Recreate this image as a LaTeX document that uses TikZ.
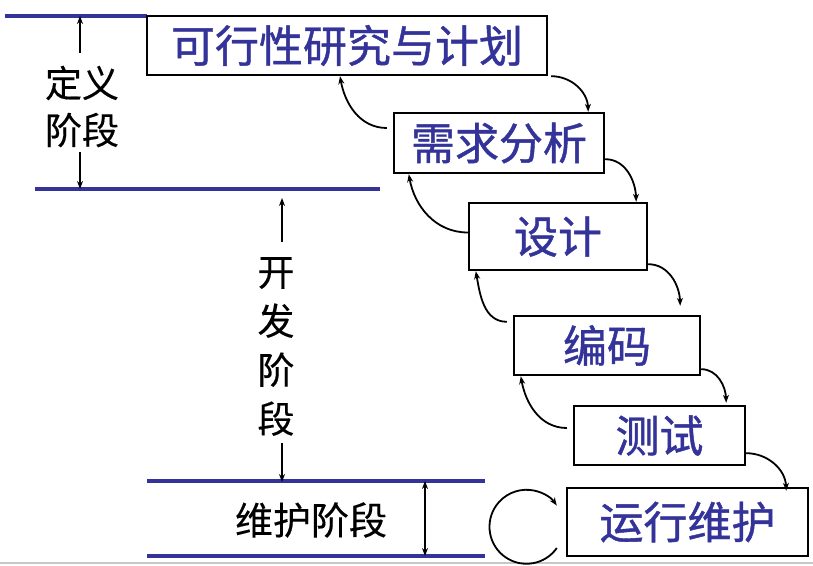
\documentclass[tikz,border=0pt]{standalone}
\usepackage{fontspec}
\newfontfamily\cjk[FakeBold=0.3]{Noto Sans CJK SC}
\newfontfamily\cjkb[FakeBold=1.0]{Noto Sans CJK SC}
\usetikzlibrary{arrows.meta}
\definecolor{pblue}{RGB}{51,51,153}
\tikzset{
 stage/.style={draw=black, line width=2.4pt, inner sep=0pt, font=\cjkb\fontsize{44}{48}\selectfont, text=pblue},
 phase/.style={font=\cjk\fontsize{37}{47}\selectfont, align=center, inner sep=0pt},
 bar/.style={draw=pblue, line width=4.5pt},
 flow/.style={line width=1.8pt, -{Stealth[length=8pt,width=6pt]}},
 dim/.style={line width=1.8pt, -{Stealth[length=8pt,width=6pt]}},
 dimboth/.style={line width=1.8pt, {Stealth[length=8pt,width=6pt]}-{Stealth[length=8pt,width=6pt]}},
}
\begin{document}
\begin{tikzpicture}[x=1pt,y=1pt]
\useasboundingbox (0,0) rectangle (813,565);
\fill[white] (0,0) rectangle (813,565);
\draw[line width=2pt, black!22] (0,2) -- (813,2);
% phase bars
\coordinate (L1a) at (5,549);   \coordinate (L1b) at (147,549);
\coordinate (L2a) at (35,376);  \coordinate (L2b) at (380,376);
\coordinate (L3a) at (147,84);  \coordinate (L3b) at (485,84);
\coordinate (L4a) at (147,9);   \coordinate (L4b) at (485,9);
\draw[bar] (L1a) -- (L1b);
\draw[bar] (L2a) -- (L2b);
\draw[bar] (L3a) -- (L3b);
\draw[bar] (L4a) -- (L4b);
% stage boxes
\node[stage, minimum width=400, minimum height=59] (b1) at (347,519.5) {可行性研究与计划};
\node[stage, minimum width=210, minimum height=60] (b2) at (499,422) {需求分析};
\node[stage, minimum width=178, minimum height=67] (b3) at (558,328.5) {设计};
\node[stage, minimum width=186, minimum height=59] (b4) at (607,219.5) {编码};
\node[stage, minimum width=171, minimum height=59] (b5) at (659.5,129.5) {测试};
\node[stage, minimum width=241, minimum height=68] (b6) at (687.5,43) {运行维护};
% forward arrows
\draw[flow] ([xshift=3pt]b1.south east) to[out=0,in=92] ([xshift=-17pt]b2.north east);
\draw[flow] ([yshift=15pt]b2.south east) to[out=0,in=92] ([xshift=-12pt]b3.north east);
\draw[flow] ([yshift=7pt]b3.south east) to[out=0,in=92] ([xshift=-21pt,yshift=9pt]b4.north east);
\draw[flow] ([yshift=7pt]b4.south east) to[out=0,in=92] ([xshift=-20pt,yshift=2pt]b5.north east);
\draw[flow] ([yshift=13pt]b5.south east) to[out=0,in=92] ([xshift=-23pt,yshift=-4pt]b6.north east);
% backward arrows
\draw[flow] ([xshift=-6pt,yshift=15pt]b2.west) to[out=180,in=-80] ([xshift=-7pt]b1.south);
\draw[flow] ([yshift=4pt]b3.west) to[out=180,in=-80] ([xshift=16pt]b2.south west);
\draw[flow] ([xshift=-6pt,yshift=-7pt]b4.north west) to[out=180,in=-80] ([xshift=8pt]b3.south west);
\draw[flow] ([xshift=-6pt,yshift=7.5pt]b5.west) to[out=180,in=-80] ([xshift=8pt]b4.south west);
% maintenance loop
\draw[flow] ([xshift=-9pt,yshift=-26pt]b6.west) arc[start angle=-35, end angle=-325, radius=37pt];
% definition phase
\node[phase] (def) at (82,458.5) {定义\\阶段};
\coordinate (d1) at (80,512); \coordinate (d1t) at (80,549);
\coordinate (d2) at (80,413); \coordinate (d2t) at (80,376);
\draw[dim] (d1) -- (d1t);
\draw[dim] (d2) -- (d2t);
% development phase
\node[phase, font=\cjk\fontsize{37}{49}\selectfont] (dev) at (276,218.5) {开\\发\\阶\\段};
\coordinate (d3) at (282,323); \coordinate (d3t) at (282,367);
\coordinate (d4) at (282,122); \coordinate (d4t) at (282,83);
\draw[dim] (d3) -- (d3t);
\draw[dim] (d4) -- (d4t);
% maintenance phase
\node[phase, font=\cjk\fontsize{38}{47}\selectfont] (mnt) at (311,45) {维护阶段};
\coordinate (m1) at (425,84); \coordinate (m2) at (425,9);
\draw[dimboth] (m1) -- (m2);
\end{tikzpicture}
\end{document}
